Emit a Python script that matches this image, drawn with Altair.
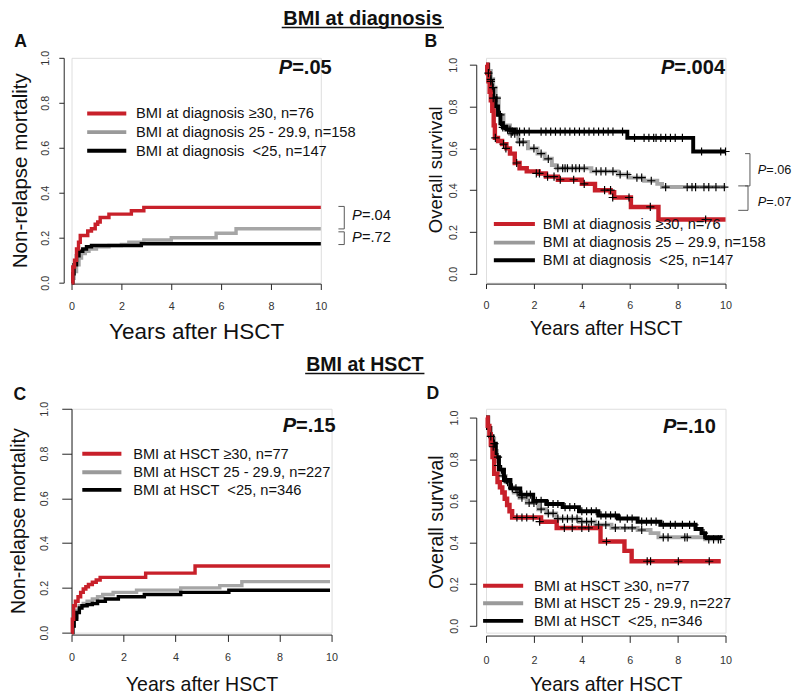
import altair as alt
import pandas as pd

FONT = "Liberation Sans"
RED = "#c8202a"
GRAY = "#a6a6a6"
BLACK = "#000000"

# ---------------- Panel A: NRM, BMI at diagnosis ----------------
A_red_t = [0, 0.05, 0.12, 0.2, 0.28, 0.35, 0.65, 0.8, 0.95, 1.05, 1.15, 1.5, 2.4, 2.9, 10]
A_red_v = [0, 0.07, 0.10, 0.15, 0.18, 0.21, 0.23, 0.24, 0.26, 0.27, 0.29, 0.305, 0.32, 0.335, 0.335]
A_gray_t = [0, 0.05, 0.1, 0.2, 0.3, 0.4, 0.55, 0.7, 1.0, 1.5, 2.0, 2.3, 2.9, 4.0, 5.8, 6.6, 10]
A_gray_v = [0, 0.02, 0.05, 0.08, 0.11, 0.13, 0.14, 0.15, 0.16, 0.165, 0.17, 0.18, 0.19, 0.20, 0.22, 0.24, 0.24]
A_black_t = [0, 0.05, 0.1, 0.2, 0.3, 0.45, 0.6, 0.8, 2.8, 10]
A_black_v = [0, 0.04, 0.08, 0.12, 0.14, 0.15, 0.16, 0.165, 0.173, 0.173]

# ---------------- Panel B: OS, BMI at diagnosis ----------------
B_red_t = [0, 0.05, 0.1, 0.15, 0.2, 0.26, 0.32, 0.37, 0.5, 0.67, 0.85, 1.0, 1.2, 1.4, 1.7, 2.2, 2.5, 3.0, 4.0, 4.55, 5.2, 5.35, 6.05, 7.2, 10]
B_red_v = [1.0, 0.96, 0.92, 0.87, 0.83, 0.78, 0.71, 0.65, 0.635, 0.62, 0.60, 0.575, 0.53, 0.505, 0.49, 0.48, 0.465, 0.45, 0.43, 0.40, 0.39, 0.365, 0.32, 0.26, 0.26]
B_gray_t = [0, 0.1, 0.2, 0.3, 0.4, 0.53, 0.73, 1.0, 1.35, 1.75, 2.15, 2.45, 2.75, 2.95, 4.4, 5.5, 5.95, 6.6, 7.15, 7.35, 10]
B_gray_v = [1.0, 0.97, 0.93, 0.89, 0.84, 0.76, 0.71, 0.67, 0.63, 0.60, 0.575, 0.55, 0.52, 0.505, 0.49, 0.475, 0.46, 0.445, 0.43, 0.415, 0.415]
B_black_t = [0, 0.08, 0.15, 0.22, 0.3, 0.4, 0.5, 0.6, 0.7, 0.85, 1.2, 5.9, 8.65, 10]
B_black_v = [1.0, 0.96, 0.92, 0.88, 0.84, 0.80, 0.76, 0.72, 0.70, 0.69, 0.68, 0.65, 0.585, 0.585]

B_cens_red_t = [0.39, 0.73, 0.83, 1.28, 2.1, 2.23, 2.57, 2.84, 3.1, 3.66, 4.1, 4.95, 5.2, 5.29, 5.97, 6.86, 9.17]
B_cens_red_v = [0.65, 0.62, 0.60, 0.53, 0.48, 0.48, 0.465, 0.465, 0.45, 0.45, 0.43, 0.40, 0.40, 0.365, 0.365, 0.32, 0.26]
B_cens_gray_t = [0.2, 0.3, 0.45, 0.6, 0.75, 1.05, 1.2, 1.4, 1.55, 2.0, 2.3, 2.6, 3.0, 3.2, 3.3, 3.4, 3.6, 3.75, 3.9, 4.1,
                 4.6, 4.8, 5.0, 5.3, 5.6, 5.9, 6.3, 6.5, 6.9, 7.5, 8.4, 8.6, 8.75, 9.1, 9.3, 9.6, 9.95]
B_cens_gray_v = [0.93, 0.89, 0.84, 0.76, 0.71, 0.67, 0.67, 0.63, 0.63, 0.60, 0.575, 0.55, 0.505, 0.505, 0.505, 0.505, 0.505, 0.505, 0.505, 0.505,
                 0.49, 0.49, 0.49, 0.49, 0.475, 0.475, 0.46, 0.46, 0.445, 0.415, 0.415, 0.415, 0.415, 0.415, 0.415, 0.415, 0.415]
B_cens_black_t = [0.1, 0.2, 0.3, 0.7, 0.9, 1.0, 1.1, 1.3, 1.4, 1.6, 1.8, 2.3, 2.5, 2.7, 2.9, 3.1, 3.3, 3.5, 3.7, 3.9, 4.1, 4.3, 4.5,
                  4.7, 4.9, 5.1, 5.3, 5.7, 6.2, 6.6, 6.8, 7.0, 7.1, 7.3, 7.5, 7.7, 7.9, 8.2, 9.0, 9.8, 10.0]
B_cens_black_v = [0.96, 0.92, 0.84, 0.70, 0.69, 0.69, 0.68, 0.68, 0.68, 0.68, 0.68, 0.68, 0.68, 0.68, 0.68, 0.68, 0.68, 0.68, 0.68, 0.68, 0.68, 0.68, 0.68,
                  0.68, 0.68, 0.68, 0.68, 0.68, 0.65, 0.65, 0.65, 0.65, 0.65, 0.65, 0.65, 0.65, 0.65, 0.65, 0.585, 0.585, 0.585]

# ---------------- Panel C: NRM, BMI at HSCT ----------------
C_red_t = [0, 0.03, 0.08, 0.15, 0.25, 0.35, 0.45, 0.55, 0.65, 0.8, 0.95, 1.1, 2.85, 4.75, 9.94]
C_red_v = [0, 0.06, 0.12, 0.14, 0.16, 0.18, 0.195, 0.205, 0.215, 0.225, 0.235, 0.247, 0.266, 0.298, 0.298]
C_gray_t = [0, 0.05, 0.1, 0.2, 0.3, 0.45, 0.6, 0.8, 1.0, 1.2, 1.6, 2.5, 4.2, 5.7, 6.55, 9.94]
C_gray_v = [0, 0.03, 0.07, 0.10, 0.12, 0.13, 0.14, 0.15, 0.16, 0.17, 0.18, 0.19, 0.20, 0.21, 0.228, 0.228]
C_black_t = [0, 0.05, 0.1, 0.2, 0.3, 0.4, 0.6, 0.8, 1.0, 1.3, 1.8, 2.8, 4.2, 6.05, 9.94]
C_black_v = [0, 0.03, 0.06, 0.09, 0.11, 0.12, 0.125, 0.13, 0.14, 0.15, 0.16, 0.17, 0.18, 0.189, 0.189]

# ---------------- Panel D: OS, BMI at HSCT ----------------
D_red_t = [0, 0.07, 0.14, 0.2, 0.27, 0.34, 0.48, 0.58, 0.68, 0.78, 0.88, 0.98, 1.09, 2.3, 2.95, 4.78, 5.78, 6.08, 9.8]
D_red_v = [1.0, 0.96, 0.92, 0.87, 0.81, 0.73, 0.69, 0.665, 0.64, 0.61, 0.58, 0.55, 0.52, 0.50, 0.47, 0.405, 0.36, 0.31, 0.31]
D_gray_t = [0, 0.1, 0.2, 0.34, 0.45, 0.54, 0.68, 0.82, 1.0, 1.16, 1.4, 1.7, 2.18, 2.52, 2.93, 3.88, 4.56, 5.24, 6.33, 6.87, 7.2, 9.15, 9.8]
D_gray_v = [1.0, 0.95, 0.90, 0.84, 0.79, 0.75, 0.72, 0.69, 0.665, 0.64, 0.615, 0.59, 0.56, 0.54, 0.515, 0.50, 0.485, 0.47, 0.46, 0.445, 0.425, 0.415, 0.415]
D_black_t = [0, 0.08, 0.17, 0.27, 0.41, 0.54, 0.75, 1.02, 1.43, 1.97, 2.52, 3.2, 3.88, 4.69, 5.51, 6.33, 7.28, 8.75, 9.0, 9.15, 9.8]
D_black_v = [1.0, 0.95, 0.91, 0.875, 0.81, 0.75, 0.70, 0.66, 0.63, 0.60, 0.585, 0.57, 0.55, 0.53, 0.515, 0.50, 0.485, 0.465, 0.445, 0.425, 0.42]

D_cens_red_t = [1.29, 1.5, 1.7, 1.97, 2.24, 3.27, 3.6, 4.0, 4.29, 5.03, 6.73, 6.87, 8.03, 9.32]
D_cens_red_v = [0.52, 0.52, 0.52, 0.52, 0.50, 0.47, 0.47, 0.47, 0.47, 0.405, 0.31, 0.31, 0.31, 0.31]
D_cens_gray_t = [0.3, 0.5, 0.7, 0.9, 1.1, 1.3, 1.5, 1.8, 2.0, 2.3, 2.6, 2.8, 3.0, 3.2, 3.4, 3.6, 3.8, 4.0, 4.2, 4.4,
                 4.7, 5.0, 5.4, 5.8, 6.1, 6.5, 7.4, 7.6, 8.3, 8.4, 9.3, 9.5, 9.7, 9.8]
D_cens_gray_v = [0.86, 0.77, 0.72, 0.69, 0.665, 0.64, 0.615, 0.59, 0.59, 0.56, 0.54, 0.54, 0.515, 0.515, 0.515, 0.515, 0.515, 0.50, 0.50, 0.50,
                 0.485, 0.485, 0.47, 0.47, 0.47, 0.46, 0.425, 0.425, 0.425, 0.425, 0.415, 0.415, 0.415, 0.415]
D_cens_black_t = [0.2, 0.35, 0.5, 0.65, 0.85, 1.1, 1.25, 1.5, 1.7, 1.85, 2.1, 2.3, 2.6, 2.8, 3.0, 3.3, 3.5, 3.7, 4.0, 4.2, 4.4, 4.6,
                  4.8, 5.0, 5.2, 5.4, 5.6, 5.9, 6.1, 6.5, 6.7, 6.9, 7.1, 7.4, 7.7, 7.9, 8.2, 8.5, 8.7, 9.1]
D_cens_black_v = [0.91, 0.875, 0.81, 0.75, 0.70, 0.66, 0.66, 0.63, 0.63, 0.63, 0.60, 0.60, 0.585, 0.585, 0.585, 0.57, 0.57, 0.57, 0.55, 0.55, 0.55, 0.55,
                  0.53, 0.53, 0.53, 0.53, 0.515, 0.515, 0.515, 0.50, 0.50, 0.50, 0.50, 0.485, 0.485, 0.485, 0.485, 0.485, 0.485, 0.445]

X_TICKS = [0, 2, 4, 6, 8, 10]
Y_TICKS = [0.0, 0.2, 0.4, 0.6, 0.8, 1.0]

LEG_DIAG_A = ["BMI at diagnosis \u226530, n=76", "BMI at diagnosis 25 - 29.9, n=158", "BMI at diagnosis \u00a0<25, n=147"]
LEG_DIAG_B = ["BMI at diagnosis \u226530, n=76", "BMI at diagnosis 25 \u2013 29.9, n=158", "BMI at diagnosis \u00a0<25, n=147"]
LEG_HSCT = ["BMI at HSCT \u226530, n=77", "BMI at HSCT 25 - 29.9, n=227", "BMI at HSCT \u00a0<25, n=346"]
LEG_COLORS = [RED, "#9a9a9a", BLACK]

ONE = pd.DataFrame({"k": [0]})
CROSS = "M-1,0L1,0M0,-1L0,1"


def text_layer(s, x, y, size, weight="normal", style="normal", align="left", baseline="middle", color="#111111"):
    return alt.Chart(ONE).mark_text(
        font=FONT, fontSize=size, fontWeight=weight, fontStyle=style,
        align=align, baseline=baseline, color=color
    ).encode(x=alt.value(x), y=alt.value(y), text=alt.value(s))


def hrule(x1, x2, y, color="#555555", width=1.0):
    return alt.Chart(ONE).mark_rule(color=color, strokeWidth=width).encode(
        x=alt.value(x1), x2=alt.value(x2), y=alt.value(y))


def vrule(x, y1, y2, color="#555555", width=1.0):
    return alt.Chart(ONE).mark_rule(color=color, strokeWidth=width).encode(
        x=alt.value(x), y=alt.value(y1), y2=alt.value(y2))


def pval(rest, x, y, size, weight="bold"):
    return [text_layer("P", x, y, size, weight=weight, style="italic"),
            text_layer(rest, x + 0.667 * size, y, size, weight=weight)]


def legend(labels, xl0, xl1, xt, ys, size=15, lw=4):
    out = []
    for lab, col, yy in zip(labels, LEG_COLORS, ys):
        out.append(hrule(xl0, xl1, yy, color=col, width=lw))
        out.append(text_layer(lab, xt, yy, size))
    return out


def bracket(x, x0, y1, y2):
    return [vrule(x, y1, y2), hrule(x0, x, y1), hrule(x0, x, y2)]


def panel(curves, censors, ytitle, ax, y_range):
    xaxis = alt.Axis(values=X_TICKS, title="Years after HSCT", grid=False,
                     titleFont=FONT, titleFontSize=ax["xts"], titleFontWeight="normal", titleColor="#111111",
                     titlePadding=ax["xtp"], labelFont=FONT, labelFontSize=11, labelColor="#333333",
                     labelPadding=ax["xlp"], tickSize=ax["xtick"], tickColor="#222222", domainColor="#222222",
                     offset=ax["xoff"], labelFlush=False, labelOverlap=False)
    yaxis = alt.Axis(values=Y_TICKS, format=".1f", title=ytitle, grid=False,
                     titleFont=FONT, titleFontSize=ax["yts"], titleFontWeight="normal", titleColor="#111111",
                     titlePadding=ax["ytp"], labelFont=FONT, labelFontSize=11, labelColor="#333333",
                     labelAngle=270, labelAlign="center", labelBaseline="bottom",
                     labelPadding=ax["ylp"], tickSize=ax["ytick"], tickColor="#222222", domainColor="#222222",
                     offset=ax["yoff"], labelFlush=False, labelOverlap=False)
    xs = alt.Scale(domain=[0, 10], nice=False)
    ys = alt.Scale(domain=[0, 1], nice=False, range=y_range)
    layers = []
    for t, v, col, sw in curves:
        df = pd.DataFrame({"t": t, "v": v})
        layers.append(alt.Chart(df).mark_line(color=col, strokeWidth=sw, interpolate="step-after").encode(
            x=alt.X("t:Q", scale=xs, axis=xaxis), y=alt.Y("v:Q", scale=ys, axis=yaxis)))
    for t, v in censors:
        df = pd.DataFrame({"t": t, "v": v})
        layers.append(alt.Chart(df).mark_point(shape=CROSS, filled=False, color=BLACK, strokeWidth=1.2,
                                               size=70, opacity=1).encode(
            x=alt.X("t:Q", scale=xs, axis=xaxis), y=alt.Y("v:Q", scale=ys, axis=yaxis)))
    return layers


# Row heights (cells in a row share the top edge)
ROW1_H = 230
ROW2_H = 229

# ---------- Panel A ----------
A_W = 255
axA = dict(xts=23, xtp=10, xlp=11, xtick=6, xoff=1, yts=21, ytp=9, ylp=9, ytick=5, yoff=8)
A_layers = panel([(A_gray_t, A_gray_v, GRAY, 3.5), (A_black_t, A_black_v, BLACK, 3.5), (A_red_t, A_red_v, RED, 3.5)],
                 [], "Non-relapse mortality", axA, [ROW1_H, 0])
A_layers += [text_layer("A", -52, -16, 18, weight="bold", align="center")]
A_layers += [text_layer("BMI at diagnosis", 298, -40, 20.5, weight="bold", align="center"),
             hrule(215, 381, -31, color="#111111", width=1.6)]
A_layers += pval("=.05", 212, 11, 20.5)
A_layers += legend(LEG_DIAG_A, 16, 56, 66, [57, 76, 95])
A_layers += bracket(279, 273, 152, 175) + bracket(279, 273, 178, 191)
A_layers += pval("=.04", 287, 161, 15, weight="normal") + pval("=.72", 287, 183, 15, weight="normal")
chartA = alt.layer(*A_layers).properties(width=A_W, height=ROW1_H)

# ---------- Panel B ----------
B_W = 245
B_T, B_B = 7, 221      # plot top / bottom inside the row cell
axB = dict(xts=20, xtp=8.5, xlp=11.5, xtick=5, xoff=B_B + 10 - ROW1_H, yts=19, ytp=3, ylp=11, ytick=7, yoff=10)
B_layers = panel([(B_gray_t, B_gray_v, GRAY, 4), (B_black_t, B_black_v, BLACK, 4), (B_red_t, B_red_v, RED, 4.5)],
                 [(B_cens_gray_t, B_cens_gray_v), (B_cens_black_t, B_cens_black_v), (B_cens_red_t, B_cens_red_v)],
                 "Overall survival", axB, [B_B, B_T])
B_layers += [text_layer("B", -56.5, B_T - 23, 18, weight="bold", align="center")]
B_layers += pval("=.004", 179, B_T + 4, 20.5)
B_layers += legend(LEG_DIAG_B, 8, 50, 58, [B_T + 163, B_T + 182, B_T + 200])
B_layers += bracket(270, 265, B_T + 91, B_T + 124) + bracket(268, 258, B_T + 124, B_T + 149)
B_layers += pval("=.06", 278, B_T + 108, 13, weight="normal") + pval("=.07", 278, B_T + 141, 13, weight="normal")
chartB = alt.layer(*B_layers).properties(width=B_W, height=ROW1_H)

# ---------- Panel C ----------
C_W = 266
axC = dict(xts=20, xtp=12.5, xlp=10.5, xtick=7, xoff=2, yts=20, ytp=10, ylp=13, ytick=10, yoff=0)
C_layers = panel([(C_gray_t, C_gray_v, GRAY, 3.5), (C_black_t, C_black_v, BLACK, 3.5), (C_red_t, C_red_v, RED, 3.5)],
                 [], "Non-relapse mortality", axC, [ROW2_H, 0])
C_layers += [text_layer("C", -53, -14, 18, weight="bold", align="center")]
C_layers += [text_layer("BMI at HSCT", 300, -45, 20, weight="bold", align="center"),
             hrule(239, 361, -36, color="#111111", width=1.6)]
C_layers += pval("=.15", 216, 18, 20.5)
C_layers += legend(LEG_HSCT, 11, 51, 63, [46, 65, 83])
chartC = alt.layer(*C_layers).properties(width=C_W, height=ROW2_H)

# ---------- Panel D ----------
D_W = 245
D_T, D_B = 9, 222
axD = dict(xts=20, xtp=9.5, xlp=12.5, xtick=7, xoff=D_B + 10 - ROW2_H, yts=20, ytp=3, ylp=10, ytick=7, yoff=10)
D_layers = panel([(D_gray_t, D_gray_v, GRAY, 4), (D_black_t, D_black_v, BLACK, 4), (D_red_t, D_red_v, RED, 4.5)],
                 [(D_cens_gray_t, D_cens_gray_v), (D_cens_black_t, D_cens_black_v), (D_cens_red_t, D_cens_red_v)],
                 "Overall survival", axD, [D_B, D_T])
D_layers += [text_layer("D", -54.5, D_T - 24, 18, weight="bold", align="center")]
D_layers += pval("=.10", 181, D_T + 10, 20.5)
D_layers += legend(LEG_HSCT, -3, 38, 49, [D_T + 172, D_T + 190, D_T + 208])
chartD = alt.layer(*D_layers).properties(width=D_W, height=ROW2_H)

chart = alt.concat(chartA, chartB, chartC, chartD, columns=2, bounds="flush",
                   spacing={"row": 129, "column": 158}).properties(
    padding={"left": 0, "top": -8, "right": 0, "bottom": 0}, background="white"
).configure_view(strokeWidth=0).configure(font=FONT)

chart.save("out.html", embed_options={"renderer": "svg", "actions": False})
